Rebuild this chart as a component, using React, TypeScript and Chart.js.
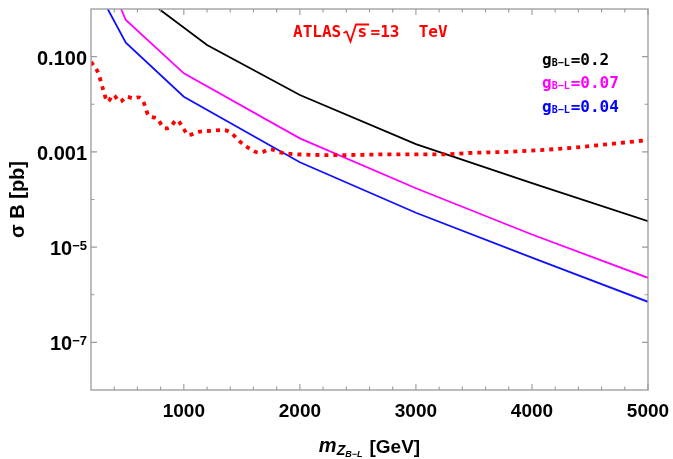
import { useEffect, useRef } from "react";
import { Chart, registerables } from "chart.js";

Chart.register(...registerables);

// ---- data (m in GeV, sigma*B in pb) ----
const massAtlas = [200, 263, 306, 344, 392, 450, 508, 565, 608, 651, 694, 766, 838, 881, 939, 996, 1038, 1125, 1240, 1340, 1412, 1469, 1542, 1656, 1743, 1829, 1943, 2346, 2777, 3208, 3492, 3782, 4069, 4354, 4644, 5000];
const sigmaAtlas = [0.078, 0.0446, 0.0199, 0.0113, 0.0156, 0.0113, 0.0144, 0.0133, 0.014, 0.0113, 0.00593, 0.00506, 0.00312, 0.00327, 0.00466, 0.00312, 0.00225, 0.00264, 0.00277, 0.00287, 0.00245, 0.00177, 0.00128, 0.000957, 0.00113, 0.000976, 0.000899, 0.000857, 0.000886, 0.000886, 0.000957, 0.001, 0.00109, 0.00122, 0.00144, 0.00177];

const massG02 = [786, 1200, 2000, 3000, 4000, 5000];
const sigmaG02 = [1.0, 0.175, 0.0156, 0.00146, 0.000221, 0.0000352];

const massG007 = [459, 500, 1000, 2000, 3000, 4000, 5000];
const sigmaG007 = [1.0, 0.587, 0.0446, 0.00192, 0.000172, 0.0000184, 0.00000227];

const massG004 = [344, 500, 1000, 2000, 3000, 4000, 5000];
const sigmaG004 = [1.0, 0.196, 0.0144, 0.000605, 0.0000526, 0.00000601, 0.00000071];

const legendValues = ["0.2", "0.07", "0.04"];
const legendColors = ["#000000", "#ff00ff", "#0000ff"];

const xMajorTicks = [1000, 2000, 3000, 4000, 5000];
const xTickLabels = ["1000", "2000", "3000", "4000", "5000"];
const xMinorTicks = [400, 600, 800, 1200, 1400, 1600, 1800, 2200, 2400, 2600, 2800, 3200, 3400, 3600, 3800, 4200, 4400, 4600, 4800];
const yMajorTicks = [0.1, 0.001, 1e-5, 1e-7];
const yTickMain = ["0.100", "0.001", "10", "10"];
const yTickSup = ["", "", "−5", "−7"];
const yMinorTicks = [0.01, 1e-4, 1e-6];

const pts = (xs: number[], ys: number[]) => xs.map((x, i) => ({ x, y: ys[i] }));

const decorPlugin = {
  id: "decor",
  afterDraw(chart: any) {
    const { ctx, chartArea: a, scales } = chart;
    const xs = scales.x;
    const ys = scales.y;
    ctx.save();
    // frame
    ctx.strokeStyle = "#9a9a9a";
    ctx.lineWidth = 1.3;
    ctx.strokeRect(a.left, a.top, a.right - a.left, a.bottom - a.top);
    ctx.lineWidth = 1.1;
    ctx.beginPath();
    const xt = (v: number, len: number) => {
      const p = xs.getPixelForValue(v);
      ctx.moveTo(p, a.bottom);
      ctx.lineTo(p, a.bottom - len);
      ctx.moveTo(p, a.top);
      ctx.lineTo(p, a.top + len);
    };
    const yt = (v: number, len: number) => {
      const p = ys.getPixelForValue(v);
      ctx.moveTo(a.left, p);
      ctx.lineTo(a.left + len, p);
      ctx.moveTo(a.right, p);
      ctx.lineTo(a.right - len, p);
    };
    xMajorTicks.forEach((v) => xt(v, 6));
    xMinorTicks.forEach((v) => xt(v, 3.5));
    yMajorTicks.forEach((v) => yt(v, 6));
    yMinorTicks.forEach((v) => yt(v, 3.5));
    ctx.stroke();

    // x tick labels
    ctx.fillStyle = "#000";
    ctx.font = "bold 19px 'Liberation Sans', Arial, sans-serif";
    ctx.textAlign = "center";
    ctx.textBaseline = "alphabetic";
    xMajorTicks.forEach((v, i) => {
      ctx.fillText(xTickLabels[i], xs.getPixelForValue(v), a.bottom + 26.5);
    });

    // y tick labels
    ctx.textAlign = "right";
    yMajorTicks.forEach((v, i) => {
      const p = ys.getPixelForValue(v);
      const right = a.left - 4;
      let supW = 0;
      if (yTickSup[i]) {
        ctx.font = "bold 13px 'Liberation Sans', Arial, sans-serif";
        supW = ctx.measureText(yTickSup[i]).width;
        ctx.fillText(yTickSup[i], right, p + 2.5);
      }
      ctx.font = "bold 20px 'Liberation Sans', Arial, sans-serif";
      ctx.fillText(yTickMain[i], right - supW, p + 8);
    });

    // y title
    ctx.save();
    ctx.translate(18, (a.top + a.bottom) / 2);
    ctx.rotate(-Math.PI / 2);
    ctx.textAlign = "center";
    ctx.textBaseline = "middle";
    ctx.font = "bold 20px 'Liberation Sans', Arial, sans-serif";
    ctx.fillText("σ B [pb]", 0, 0);
    ctx.restore();

    // x title
    ctx.textAlign = "left";
    const fM = "italic bold 20px 'Liberation Sans', Arial, sans-serif";
    const fZ = "italic bold 14px 'Liberation Sans', Arial, sans-serif";
    const fBL = "italic bold 9px 'Liberation Sans', Arial, sans-serif";
    const fG = "bold 19px 'Liberation Sans', Arial, sans-serif";
    ctx.font = fM; const wM = ctx.measureText("m").width;
    ctx.font = fZ; const wZ = ctx.measureText("Z").width;
    ctx.font = fBL; const wBL = ctx.measureText("B−L").width;
    ctx.font = fG; const wG = ctx.measureText("[GeV]").width;
    const gap = 7;
    const total = wM + wZ + wBL + gap + wG;
    let x0 = (a.left + a.right) / 2 - total / 2;
    const bl = 451.5;
    ctx.font = fM; ctx.fillText("m", x0, bl); x0 += wM;
    ctx.font = fZ; ctx.fillText("Z", x0, bl + 3); x0 += wZ;
    ctx.font = fBL; ctx.fillText("B−L", x0, bl + 5); x0 += wBL + gap;
    ctx.font = fG; ctx.fillText("[GeV]", x0, bl + 1);

    // ATLAS label
    const mono = "'DejaVu Sans Mono', monospace";
    ctx.fillStyle = "#ff0000";
    ctx.strokeStyle = "#ff0000";
    ctx.font = `bold 16px ${mono}`;
    ctx.fillText("ATLAS", 293, 37);
    ctx.lineWidth = 1.8;
    ctx.beginPath();
    ctx.moveTo(343.5, 33);
    ctx.lineTo(346.5, 31.5);
    ctx.lineTo(350.5, 41.5);
    ctx.lineTo(356, 24.5);
    ctx.lineTo(369, 24.5);
    ctx.stroke();
    ctx.fillText("s", 357.5, 37);
    ctx.fillText("=13  TeV", 370.5, 37);

    // legend
    const baselines = [65, 88, 112];
    legendValues.forEach((val, i) => {
      ctx.fillStyle = legendColors[i];
      let lx = 542;
      const by = baselines[i];
      ctx.font = `bold 16px ${mono}`;
      ctx.fillText("g", lx, by);
      lx += ctx.measureText("g").width;
      ctx.font = `bold 10px ${mono}`;
      ctx.fillText("B−L", lx, by + 1);
      lx += ctx.measureText("B−L").width + 1;
      ctx.font = `bold 16px ${mono}`;
      ctx.fillText("=" + val, lx, by);
    });
    ctx.restore();
  },
};

export default function App() {
  const ref = useRef<HTMLCanvasElement | null>(null);
  useEffect(() => {
    if (!ref.current) return;
    const chart = new Chart(ref.current, {
      type: "line",
      data: {
        datasets: [
          {
            label: "ATLAS 13 TeV",
            data: pts(massAtlas, sigmaAtlas),
            borderColor: "#ff0000",
            borderWidth: 3.8,
            borderDash: [4, 5],
            pointRadius: 0,
            cubicInterpolationMode: "monotone",
            fill: false,
          },
          {
            label: "g=0.2",
            data: pts(massG02, sigmaG02),
            borderColor: "#000000",
            borderWidth: 1.8,
            pointRadius: 0,
            tension: 0,
            fill: false,
          },
          {
            label: "g=0.07",
            data: pts(massG007, sigmaG007),
            borderColor: "#ff00ff",
            borderWidth: 1.8,
            pointRadius: 0,
            tension: 0,
            fill: false,
          },
          {
            label: "g=0.04",
            data: pts(massG004, sigmaG004),
            borderColor: "#1010ff",
            borderWidth: 1.8,
            pointRadius: 0,
            tension: 0,
            fill: false,
          },
        ],
      },
      options: {
        animation: false,
        responsive: false,
        devicePixelRatio: 1,
        layout: { padding: { left: 91, top: 9, right: 25, bottom: 69 } },
        plugins: { legend: { display: false }, tooltip: { enabled: false }, title: { display: false } },
        scales: {
          x: { type: "linear", min: 200, max: 5000, display: false },
          y: { type: "logarithmic", min: 1e-8, max: 1, display: false },
        },
      },
      plugins: [decorPlugin],
    });
    return () => chart.destroy();
  }, []);
  return (
    <div style={{ position: "fixed", left: 0, top: 0, width: 673, height: 459, background: "#fff" }}>
      <canvas ref={ref} width={673} height={459} style={{ display: "block" }} />
    </div>
  );
}
